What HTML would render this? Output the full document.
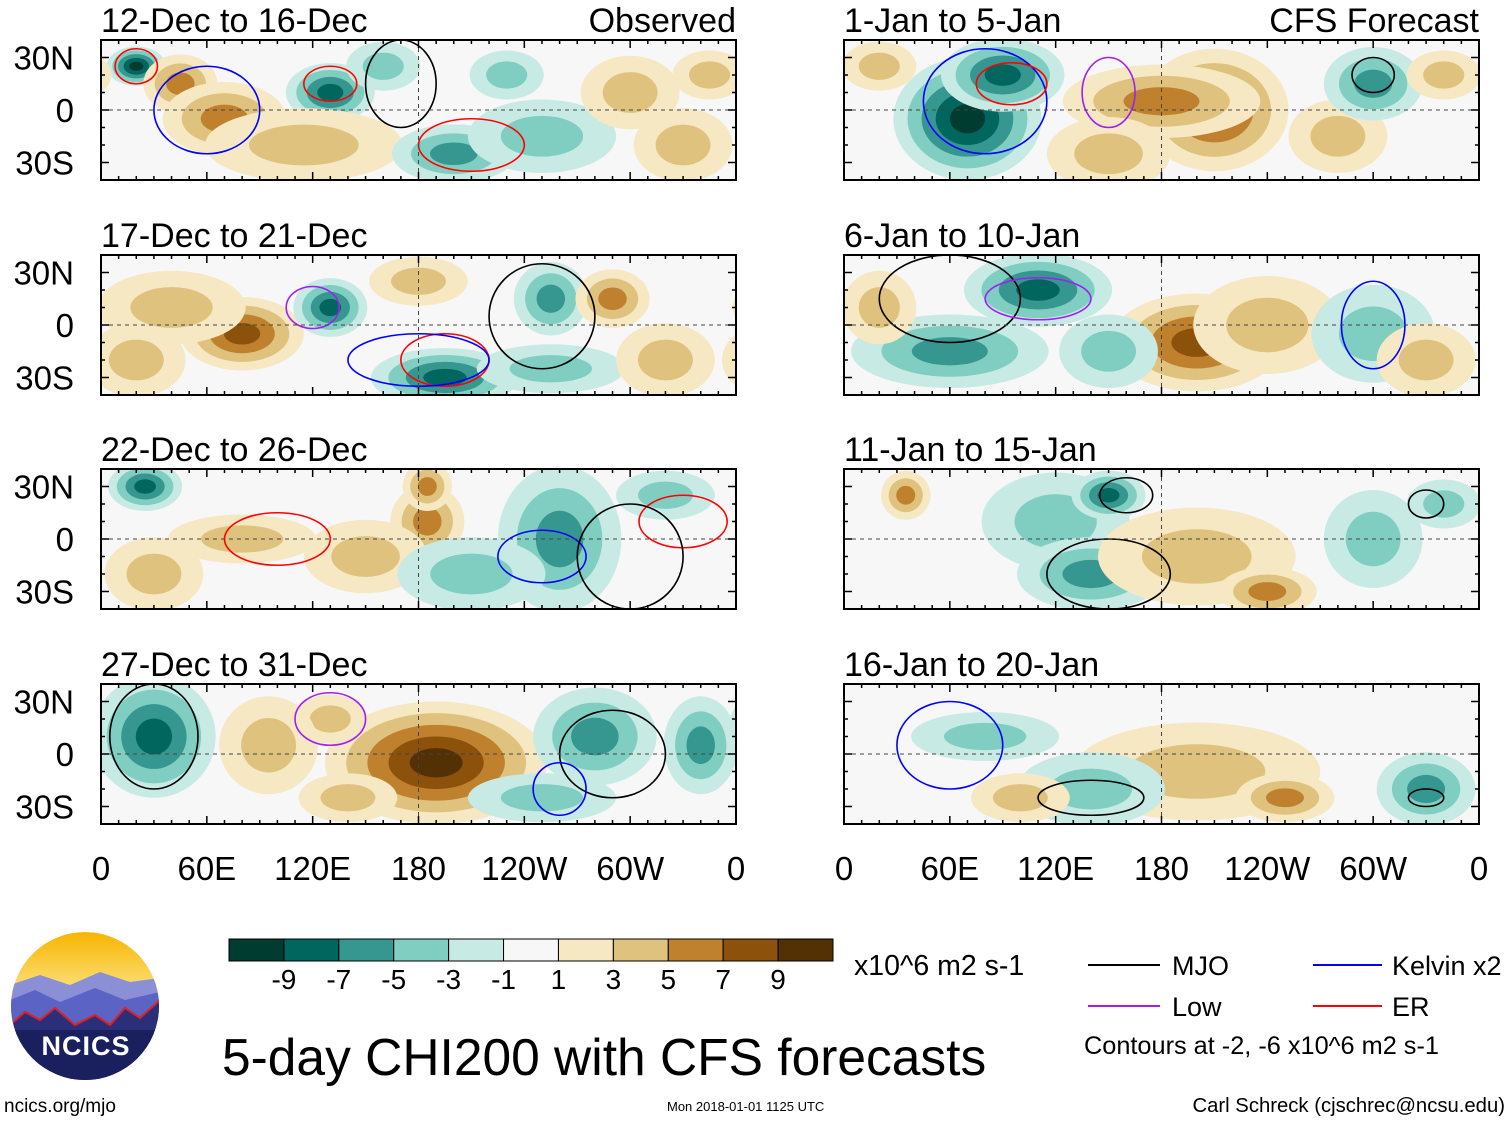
<!DOCTYPE html>
<html><head><meta charset="utf-8"><style>
html,body{margin:0;padding:0;background:#fff}
svg{display:block;font-family:"Liberation Sans",Arial,sans-serif}
</style></head><body>
<svg id="fig" xmlns="http://www.w3.org/2000/svg" width="1510" height="1121" viewBox="0 0 1510 1121">
<defs>
<linearGradient id="sky" x1="0" y1="0" x2="0" y2="1"><stop offset="0" stop-color="#f7b500"/><stop offset="0.45" stop-color="#fde58a"/><stop offset="1" stop-color="#c9c6e8"/></linearGradient>
<clipPath id="logoclip"><circle cx="85" cy="1006" r="74"/></clipPath>
</defs>
<g id="panels"></g>
<g id="xaxes"></g>
<g id="cbar"></g>
<text x="854" y="975" font-size="28.5">x10^6 m2 s-1</text>
<g>
<line x1="1088" y1="965" x2="1160" y2="965" stroke="#000" stroke-width="2"/><text x="1172" y="975" font-size="27">MJO</text>
<line x1="1313" y1="965" x2="1382" y2="965" stroke="#0000ff" stroke-width="2"/><text x="1392" y="975" font-size="27">Kelvin x2</text>
<line x1="1088" y1="1006" x2="1160" y2="1006" stroke="#a020f0" stroke-width="2"/><text x="1172" y="1016" font-size="27">Low</text>
<line x1="1313" y1="1006" x2="1382" y2="1006" stroke="#ff0000" stroke-width="2"/><text x="1392" y="1016" font-size="27">ER</text>
<text x="1084" y="1054" font-size="25.3">Contours at -2, -6 x10^6 m2 s-1</text>
</g>
<text x="222" y="1075" font-size="51.5">5-day CHI200 with CFS forecasts</text>
<text x="4" y="1112" font-size="19">ncics.org/mjo</text>
<text x="667" y="1111" font-size="13">Mon 2018-01-01 1125 UTC</text>
<text x="1505" y="1112" font-size="20.3" text-anchor="end">Carl Schreck (cjschrec@ncsu.edu)</text>
<g clip-path="url(#logoclip)">
<circle cx="85" cy="1006" r="74" fill="url(#sky)"/>
<path d="M10 985 L40 975 L70 985 L100 972 L130 982 L160 978 L160 1090 L10 1090Z" fill="#8b8fd6"/>
<path d="M10 1000 L35 990 L60 1002 L95 988 L125 1000 L160 992 L160 1090 L10 1090Z" fill="#5b63c4"/>
<path d="M10 1025 L25 1012 L40 1020 L55 1008 L75 1025 L95 1015 L110 1025 L125 1008 L140 1018 L160 1000 L160 1090 L10 1090Z" fill="#2b2f7a" stroke="#e02020" stroke-width="2"/>
<rect x="10" y="1030" width="150" height="60" fill="#1a1f5e"/>
</g>
<text x="86" y="1055" font-size="27" font-weight="bold" fill="#fff" text-anchor="middle" letter-spacing="1">NCICS</text>
</svg>
<script>
const levelVals=[-9,-7,-5,-3,-1,1,3,5,7,9];
const levelColors=["#003c30","#01665e","#35978f","#80cdc1","#c7eae5","#f7f7f7","#f6e8c3","#dfc27d","#bf812d","#8c510a","#543005"];
const panelTitles=["12-Dec to 16-Dec","1-Jan to 5-Jan","17-Dec to 21-Dec","6-Jan to 10-Jan","22-Dec to 26-Dec","11-Jan to 15-Jan","27-Dec to 31-Dec","16-Jan to 20-Jan"];
const panelTags=["Observed","CFS Forecast","","","","","",""];
const latTicks=[30,0,-30];
const latLabels=["30N","0","30S"];
const lonTicks=[0,60,120,180,240,300,360];
const lonLabels=["0","60E","120E","180","120W","60W","0"];
// anomaly blobs: [lon, lat, lonRadius, latRadius, peak value]
const blobs0=[[20,25,12,8,-9],[45,15,15,12,5],[70,-5,25,15,5],[130,10,18,12,-7],[115,-20,40,15,3],[160,25,15,10,-3],[200,-25,25,12,-5],[230,20,15,10,-3],[250,-15,30,15,-3],[300,10,20,15,3],[330,-20,20,15,3],[345,20,15,10,3]];
const blobs1=[[70,-5,30,25,-9],[90,20,25,15,-7],[210,0,30,25,7],[180,5,40,15,5],[150,-25,25,15,3],[280,-15,20,15,3],[300,15,20,15,-5],[20,25,15,10,3],[340,20,15,10,3]];
const blobs2=[[80,-5,25,15,7],[40,10,30,15,3],[130,10,15,12,-7],[195,-30,30,12,-7],[255,-25,30,10,-3],[255,15,15,15,-5],[290,15,15,12,5],[320,-20,20,15,3],[180,25,20,10,3],[20,-20,20,15,3]];
const blobs3=[[110,20,30,15,-7],[60,-15,40,15,-5],[200,-10,35,20,7],[240,0,30,20,3],[300,-5,25,20,-3],[330,-20,20,15,3],[20,10,15,15,3],[150,-15,20,15,-3]];
const blobs4=[[25,30,15,10,-7],[185,10,15,15,5],[185,30,10,10,5],[150,-10,25,15,3],[260,0,25,30,-5],[210,-20,30,15,-3],[80,0,30,10,3],[320,25,20,10,-3],[30,-20,20,15,3]];
const blobs5=[[120,10,30,20,-3],[140,-20,30,15,-5],[150,25,15,10,-7],[200,-10,40,20,3],[240,-30,20,10,5],[35,25,10,10,5],[300,0,20,20,-3],[340,20,15,10,-3]];
const blobs6=[[30,10,25,25,-7],[190,-5,45,25,9],[130,20,15,10,3],[280,10,25,20,-5],[340,5,15,20,-5],[95,5,20,20,3],[250,-25,30,10,-3],[140,-25,20,10,3]];
const blobs7=[[200,-10,50,20,3],[250,-25,20,10,5],[140,-20,30,15,-3],[330,-20,20,15,-5],[80,10,30,10,-3],[100,-25,20,10,3]];
const blobSets=[blobs0,blobs1,blobs2,blobs3,blobs4,blobs5,blobs6,blobs7];
// contours: [lon, lat, lonRadius, latRadius, type]
const contours0=[[20,25,12,10,"ER"],[60,0,30,25,"Kelvin"],[130,15,15,10,"ER"],[210,-20,30,15,"ER"],[170,15,20,25,"MJO"]];
const contours1=[[80,5,35,30,"Kelvin"],[95,15,20,12,"ER"],[150,10,15,20,"Low"],[300,20,12,10,"MJO"]];
const contours2=[[120,10,15,12,"Low"],[195,-20,25,15,"ER"],[180,-20,40,15,"Kelvin"],[250,5,30,30,"MJO"]];
const contours3=[[60,15,40,25,"MJO"],[110,15,30,12,"Low"],[300,0,18,25,"Kelvin"]];
const contours4=[[100,0,30,15,"ER"],[250,-10,25,15,"Kelvin"],[330,10,25,15,"ER"],[300,-10,30,30,"MJO"]];
const contours5=[[150,-20,35,20,"MJO"],[160,25,15,10,"MJO"],[330,20,10,8,"MJO"]];
const contours6=[[30,10,25,30,"MJO"],[290,0,30,25,"MJO"],[260,-20,15,15,"Kelvin"],[130,20,20,15,"Low"]];
const contours7=[[60,5,30,25,"Kelvin"],[140,-25,30,10,"MJO"],[330,-25,10,5,"MJO"]];
const contourSets=[contours0,contours1,contours2,contours3,contours4,contours5,contours6,contours7];
const contourColors={MJO:"#000",Kelvin:"#0000ff",Low:"#a020f0",ER:"#ff0000"};

const NS="http://www.w3.org/2000/svg";
function mk(tag,attrs,parent){const e=document.createElementNS(NS,tag);for(const k in attrs)e.setAttribute(k,attrs[k]);parent.appendChild(e);return e;}
function colorFor(v){let i=0;while(i<levelVals.length&&v>levelVals[i])i++;return levelColors[i];}
const panelsG=document.getElementById('panels');
const colX=[101,844],rowY=[40,255,469,684],PW=635,PH=140;
for(let p=0;p<8;p++){
  const x0=colX[p%2],y0=rowY[Math.floor(p/2)];
  const xs=lon=>x0+lon/360*PW, ys=lat=>y0+(40-lat)/80*PH;
  const g=mk('g',{},panelsG);
  
  
  const cp=mk('clipPath',{id:'cp'+p},g);mk('rect',{x:x0,y:y0,width:PW,height:PH},cp);
  const inner=mk('g',{'clip-path':'url(#cp'+p+')'},g);
  mk('rect',{x:x0,y:y0,width:PW,height:PH,fill:levelColors[5]},inner);
  blobSets[p].forEach(b=>{
    const [lon,lat,rl,rt,v]=b;const n=Math.abs(v),s=Math.sign(v);
    for(let lv=1;lv<=n;lv+=2){
      const f=1-(lv-1)/(n+1.5);
      for(const off of [-360,0,360]){
        const el=mk('ellipse',{cx:xs(lon+off),cy:ys(lat),rx:rl*f*PW/360*1.4,ry:rt*f*PH/80*1.4,fill:colorFor(s*(lv+1))},inner);
        
        
      }
    }
  });
  contourSets[p].forEach(c=>{
    const el=mk('ellipse',{cx:xs(c[0]),cy:ys(c[1]),rx:c[2]*PW/360,ry:c[3]*PH/80,fill:'none',stroke:contourColors[c[4]],'stroke-width':1.6},inner);
    
    
  });
  mk('line',{x1:x0,x2:x0+PW,y1:ys(0),y2:ys(0),stroke:'#444','stroke-dasharray':'4,4','stroke-width':1},inner);
  mk('line',{x1:xs(180),x2:xs(180),y1:y0,y2:y0+PH,stroke:'#444','stroke-dasharray':'4,4','stroke-width':1},inner);
  mk('rect',{x:x0,y:y0,width:PW,height:PH,fill:'none',stroke:'#000','stroke-width':2},g);
  for(let l=0;l<=360;l+=10){const t=l%60===0?8:4;
    mk('line',{x1:xs(l),x2:xs(l),y1:y0,y2:y0+t,stroke:'#000','stroke-width':1.5},g);
    mk('line',{x1:xs(l),x2:xs(l),y1:y0+PH,y2:y0+PH-t,stroke:'#000','stroke-width':1.5},g);}
  for(let l=-40;l<=40;l+=10){const t=l%30===0?8:4;
    mk('line',{x1:x0,x2:x0+t,y1:ys(l),y2:ys(l),stroke:'#000','stroke-width':1.5},g);
    mk('line',{x1:x0+PW,x2:x0+PW-t,y1:ys(l),y2:ys(l),stroke:'#000','stroke-width':1.5},g);}
  const tt=mk('text',{x:x0,y:y0-8,'font-size':34},g);tt.textContent=panelTitles[p];
  
  
  if(panelTags[p]){const tg=mk('text',{x:x0+PW,y:y0-8,'font-size':34,'text-anchor':'end'},g);tg.textContent=panelTags[p];
    
    }
  if(p%2===0){latTicks.forEach((lt,i)=>{const t=mk('text',{x:74,y:ys(lt)+12,'font-size':33,'text-anchor':'end'},g);t.textContent=latLabels[i];
    
    });}
}
const xa=document.getElementById('xaxes');
colX.forEach(x0=>{lonTicks.forEach((l,i)=>{const t=mk('text',{x:x0+l/360*PW,y:880,'font-size':33,'text-anchor':'middle'},xa);t.textContent=lonLabels[i];
  
  });});
const cb=document.getElementById('cbar');const cbx=229,cbw=604/11;
levelColors.forEach((c,i)=>{const r=mk('rect',{x:cbx+i*cbw,y:939,width:cbw,height:22,fill:c,stroke:'#000','stroke-width':1},cb);
  
  });
levelVals.forEach((v,i)=>{const t=mk('text',{x:cbx+(i+1)*cbw,y:989,'font-size':28,'text-anchor':'middle'},cb);t.textContent=String(v);
  
  });
</script>
</body></html>
